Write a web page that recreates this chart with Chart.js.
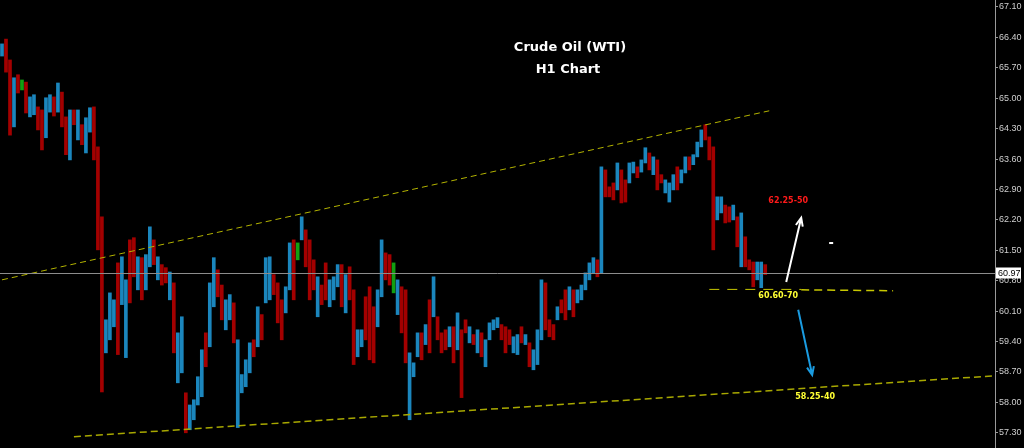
<!DOCTYPE html>
<html>
<head>
<meta charset="utf-8">
<script src="https://cdn.jsdelivr.net/npm/chart.js@4.4.0/dist/chart.umd.min.js"></script>
<style>
  html, body { margin: 0; padding: 0; background: #000; }
  #wrap { width: 1024px; height: 448px; position: relative; }
</style>
</head>
<body>
<div id="wrap"><canvas id="oilChart"></canvas></div>
<script>
// H1 bars (high / low per bar, u = up, d = down, g = doji)
const barHigh = [
  66.25, 66.36, 65.88, 65.47, 65.54, 65.42, 65.37, 65.03, 65.08, 64.80,
  64.73, 65.01, 65.08, 65.03, 65.35, 65.14, 64.57, 64.73, 64.73, 64.73,
  64.39, 64.55, 64.78, 64.80, 63.88, 62.27, 59.90, 60.52, 60.36, 61.21,
  61.35, 60.82, 61.74, 61.79, 61.35, 61.33, 61.40, 62.04, 61.74, 61.35,
  61.17, 61.10, 61.00, 60.75, 59.60, 59.97, 58.22, 57.94, 58.06, 58.59,
  59.21, 59.60, 60.75, 61.33, 61.05, 60.70, 60.36, 60.48, 60.29, 59.44,
  58.64, 58.98, 59.37, 59.44, 60.20, 60.02, 61.33, 61.35, 60.94, 60.75,
  60.36, 60.66, 61.67, 61.74, 61.67, 62.27, 61.97, 61.74, 61.28, 60.89,
  60.70, 61.21, 60.82, 60.89, 61.17, 61.17, 60.94, 61.12, 60.59, 59.67,
  59.67, 60.43, 60.66, 60.20, 60.59, 61.74, 61.44, 61.40, 61.21, 60.82,
  60.66, 60.59, 59.14, 58.91, 59.60, 59.60, 59.79, 60.36, 60.89, 59.97,
  59.60, 59.67, 59.74, 59.74, 60.06, 59.67, 59.90, 59.74, 59.56, 59.67,
  59.60, 59.44, 59.83, 59.90, 59.95, 59.79, 59.74, 59.67, 59.51, 59.56,
  59.74, 59.56, 59.37, 59.21, 59.67, 60.82, 60.75, 59.90, 59.79, 60.20,
  60.36, 60.59, 60.66, 60.59, 60.59, 60.70, 60.98, 61.21, 61.33, 61.28,
  63.42, 63.35, 62.96, 63.05, 63.51, 63.35, 63.12, 63.51, 63.53, 63.42,
  63.58, 63.86, 63.74, 63.65, 63.58, 63.24, 63.12, 63.05, 63.24, 63.42,
  63.35, 63.65, 63.65, 63.70, 63.99, 64.27, 64.39, 64.11, 63.88, 62.73,
  62.73, 62.54, 62.50, 62.54, 62.27, 62.36, 61.81, 61.28, 61.23, 61.23,
  61.23, 61.17
];
const barLow = [
  65.97, 65.60, 64.15, 64.34, 65.12, 65.19, 64.66, 64.57, 64.62, 64.27,
  63.81, 64.09, 64.68, 64.59, 64.68, 64.34, 63.70, 63.58, 64.39, 64.04,
  63.93, 63.74, 64.22, 63.58, 61.51, 58.24, 59.14, 59.44, 59.74, 59.10,
  60.25, 59.03, 60.29, 60.89, 60.59, 60.36, 60.59, 61.12, 61.17, 60.82,
  60.70, 60.75, 60.36, 59.14, 58.45, 58.68, 57.30, 57.37, 57.60, 57.94,
  58.13, 58.82, 59.28, 60.20, 60.43, 59.90, 59.67, 59.90, 59.37, 57.42,
  58.22, 58.36, 58.68, 59.05, 59.28, 59.44, 60.29, 60.36, 60.48, 59.83,
  59.44, 60.06, 60.59, 60.36, 61.28, 61.74, 61.12, 60.36, 60.59, 59.97,
  60.25, 60.36, 60.20, 60.36, 60.66, 60.20, 60.06, 60.36, 58.87, 59.05,
  59.28, 59.44, 58.98, 58.91, 59.74, 60.43, 60.82, 60.70, 60.52, 60.02,
  59.60, 58.91, 57.60, 58.59, 59.05, 58.98, 59.33, 59.14, 59.97, 59.44,
  59.14, 59.21, 59.28, 58.91, 59.21, 58.11, 59.60, 59.37, 59.33, 59.14,
  59.05, 58.82, 59.44, 59.67, 59.72, 59.44, 59.14, 59.33, 59.14, 59.10,
  59.37, 59.33, 58.82, 58.75, 58.87, 59.44, 59.67, 59.51, 59.44, 59.90,
  60.06, 59.90, 60.13, 59.97, 60.29, 60.36, 60.59, 60.82, 60.98, 60.89,
  60.98, 62.73, 62.73, 62.66, 62.89, 62.59, 62.61, 63.05, 63.28, 63.17,
  63.30, 63.51, 63.35, 63.24, 62.89, 63.05, 62.82, 62.61, 62.89, 62.89,
  63.05, 63.28, 63.35, 63.47, 63.65, 63.88, 64.04, 63.58, 61.51, 62.20,
  62.36, 62.13, 62.15, 62.20, 61.58, 61.12, 61.12, 61.05, 60.66, 60.82,
  60.64, 60.94
];
const barDir = [
  'uddudgduud', 'duududdudu', 'duuddduuud', 'uudduduudu', 'dduduuduuu',
  'uduudduudu', 'uuududuudd', 'duudgudddu', 'dduuududdu', 'uddduuddgu',
  'dduuududud', 'ddududdudu', 'duuuuddduu', 'duduuudddu', 'dduduuuuud',
  'udddudduud', 'uududduuud', 'uuduuudddu', 'uddududddu', 'ud'
].join('').split('');

const totalSlots = 249;                 // room on the time axis, incl. empty space on the right
const priceTicks = [57.30, 58.00, 58.70, 59.40, 60.10, 60.80, 61.50, 62.20,
                    62.90, 63.60, 64.30, 65.00, 65.70, 66.40, 67.10];
const lastPrice = 60.97;

// drawn lines: [slot, price]
const upperTrend = [[0, 60.82], [192, 64.71]];
const lowerTrend = [[18, 57.21], [248, 58.61]];
const supportLeft = [[177, 60.60], [200, 60.60]];
const supportRight = [[200, 60.59], [223, 60.57]];

// text notes and arrows: slot, price
const notes = [
  { text: '62.25-50', slot: 196.75, price: 62.64, color: '#ff1a1a' },
  { text: '60.60-70', slot: 194.25, price: 60.45, color: '#ffff33' },
  { text: '58.25-40', slot: 203.5, price: 58.13, color: '#ffff33' }
];
const arrows = [
  { from: [196.25, 60.77], to: [200, 62.25], color: '#ffffff' },
  { from: [199.25, 60.13], to: [202.75, 58.63], color: '#1a9be0' }
];

const colorFor = { u: '#1b86bd', d: '#a30000', g: '#12a012' };

function lineData(pts) {
  const d = new Array(totalSlots).fill(null);
  pts.forEach(([i, v]) => { d[i] = v; });
  return d;
}

function trendSet(pts, color, dash, width) {
  return {
    type: 'line',
    data: lineData(pts),
    borderColor: color,
    borderWidth: width,
    borderDash: dash,
    pointRadius: 0,
    spanGaps: true,
    order: 1
  };
}

const overlay = {
  id: 'overlay',
  afterDraw(chart) {
    const { ctx, chartArea: a, scales: { x, y } } = chart;
    ctx.save();

    // last price line
    const py = Math.round(y.getPixelForValue(lastPrice)) + 0.5;
    ctx.strokeStyle = '#8c8c8c';
    ctx.lineWidth = 1;
    ctx.beginPath();
    ctx.moveTo(a.left, py);
    ctx.lineTo(a.right, py);
    ctx.stroke();

    // price box on the axis
    ctx.fillStyle = '#ffffff';
    ctx.fillRect(a.right + 1, py - 6, 25, 11);
    ctx.fillStyle = '#000';
    ctx.font = '9px "Liberation Sans"';
    ctx.textBaseline = 'middle';
    ctx.textAlign = 'left';
    ctx.fillText(lastPrice.toFixed(2), a.right + 3, py);

    // title
    ctx.fillStyle = '#ffffff';
    ctx.font = 'bold 13px "DejaVu Sans"';
    ctx.textAlign = 'center';
    ctx.fillText('Crude Oil (WTI)', a.left + 570, 48);
    ctx.fillText('H1 Chart', a.left + 568, 70);

    // notes
    ctx.font = 'bold 8px "DejaVu Sans"';
    notes.forEach(n => {
      ctx.fillStyle = n.color;
      ctx.fillText(n.text, x.getPixelForValue(n.slot), y.getPixelForValue(n.price));
    });

    // arrows
    arrows.forEach(ar => {
      const x0 = x.getPixelForValue(ar.from[0]), y0 = y.getPixelForValue(ar.from[1]);
      const x1 = x.getPixelForValue(ar.to[0]), y1 = y.getPixelForValue(ar.to[1]);
      const ang = Math.atan2(y1 - y0, x1 - x0);
      ctx.strokeStyle = ar.color;
      ctx.lineWidth = 2;
      ctx.beginPath();
      ctx.moveTo(x0, y0);
      ctx.lineTo(x1, y1);
      ctx.moveTo(x1 - 9 * Math.cos(ang - 0.4), y1 - 9 * Math.sin(ang - 0.4));
      ctx.lineTo(x1, y1);
      ctx.lineTo(x1 - 9 * Math.cos(ang + 0.4), y1 - 9 * Math.sin(ang + 0.4));
      ctx.stroke();
    });

    // small white mark
    ctx.fillStyle = '#ffffff';
    ctx.fillRect(x.getPixelForValue(207), y.getPixelForValue(61.69), 4, 2);

    ctx.restore();
  }
};

new Chart(document.getElementById('oilChart'), {
  type: 'bar',
  data: {
    labels: Array.from({ length: totalSlots }, (_, i) => String(i)),
    datasets: [
      {
        data: barHigh.map((h, i) => [barLow[i], h]),
        backgroundColor: barHigh.map((h, i) => colorFor[barDir[i]] || colorFor.u),
        barThickness: 3,
        borderWidth: 0,
        order: 2
      },
      trendSet(upperTrend, '#b3b300', [6, 4], 1),
      trendSet(lowerTrend, '#a8a800', [7, 4], 1.5),
      trendSet(supportLeft, '#c8c800', [10, 8], 1),
      trendSet(supportRight, '#c8c800', [8, 5], 1.5)
    ]
  },
  options: {
    responsive: true,
    maintainAspectRatio: false,
    animation: false,
    events: [],
    layout: { padding: 0 },
    plugins: { legend: { display: false }, tooltip: { enabled: false } },
    scales: {
      x: { display: false },
      y: {
        position: 'right',
        min: 56.95,
        max: 67.26,
        afterBuildTicks(scale) {
          scale.ticks = priceTicks.map(v => ({ value: v }));
        },
        afterFit(scale) {
          scale.width = 29;
          scale.paddingTop = 0;
          scale.paddingBottom = 0;
        },
        border: { display: true, color: '#9a9a9a' },
        grid: { drawOnChartArea: false, color: '#9a9a9a', tickLength: 3 },
        ticks: {
          color: '#cfcfcf',
          padding: 1,
          font: { family: 'Liberation Sans', size: 9 },
          callback: v => Number(v).toFixed(2)
        }
      }
    }
  },
  plugins: [overlay]
});
</script>
</body>
</html>
